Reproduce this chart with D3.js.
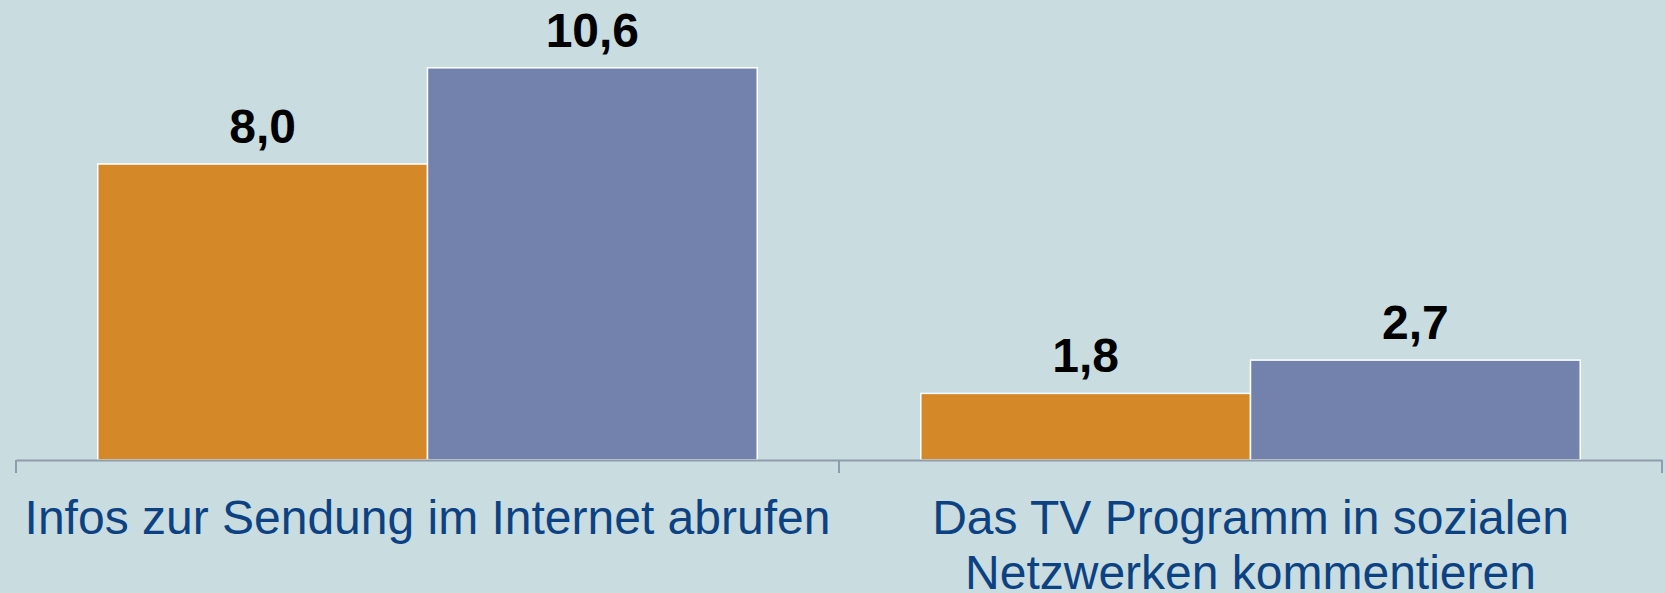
<!DOCTYPE html>
<html>
<head>
<meta charset="utf-8">
<script src="https://cdn.jsdelivr.net/npm/d3@7"></script>
<style>
  body { margin: 0; background: #c9dce0; }
  svg { display: block; font-family: "Liberation Sans", Arial, sans-serif; }
</style>
</head>
<body>
<div id="chart"></div>
<script>
var W = 1665;
var H = 593;

var categories = ['Infos zur Sendung im Internet abrufen', 'Das TV Programm in sozialen Netzwerken kommentieren'];
var series = ['a', 'b'];
var seriesA = [8.0, 1.8];
var seriesB = [10.6, 2.7];
var colors = ['#d48827', '#7282ad'];

var fmt = d3.formatLocale({ decimal: ',', thousands: '.', grouping: [3], currency: ['', ' €'] }).format('.1f');

var svg = d3.select('#chart').append('svg').attr('width', W).attr('height', H);

svg.append('rect').attr('width', W).attr('height', H).attr('fill', '#c9dce0');

var x0 = d3.scaleBand()
  .domain(categories)
  .range([16, 1662])
  .paddingInner(0)
  .paddingOuter(0);

var x1 = d3.scaleBand()
  .domain(series)
  .range([0, x0.bandwidth()])
  .paddingInner(0)
  .paddingOuter(0.248);

var y = d3.scaleLinear()
  .domain([0, 12])
  .range([460, 16]);

var rows = categories.map(function (c, i) {
  return { cat: c, values: [seriesA[i], seriesB[i]] };
});

var group = svg.selectAll('g.cat')
  .data(rows)
  .enter()
  .append('g')
  .attr('class', 'cat')
  .attr('transform', function (d) { return 'translate(' + x0(d.cat) + ',0)'; });

group.selectAll('rect')
  .data(function (d) { return d.values.map(function (v, i) { return { key: series[i], value: v }; }); })
  .enter()
  .append('rect')
  .attr('x', function (d) { return x1(d.key); })
  .attr('y', function (d) { return y(d.value); })
  .attr('width', x1.bandwidth())
  .attr('height', function (d) { return y(0) - y(d.value); })
  .attr('fill', function (d, i) { return colors[i]; })
  .attr('stroke', '#fff')
  .attr('stroke-width', 1.5);

group.selectAll('text.val')
  .data(function (d) { return d.values.map(function (v, i) { return { key: series[i], value: v }; }); })
  .enter()
  .append('text')
  .attr('class', 'val')
  .attr('x', function (d) { return x1(d.key) + x1.bandwidth() / 2; })
  .attr('y', function (d) { return y(d.value) - 21; })
  .attr('text-anchor', 'middle')
  .attr('font-size', 48)
  .attr('font-weight', 'bold')
  .attr('fill', '#000')
  .text(function (d) { return fmt(d.value); });

/* ===== AXIS ===== */
var xAxis = d3.axisBottom(x0).tickSize(0).tickFormat('');
var axisG = svg.append('g')
  .attr('transform', 'translate(0,' + y(0) + ')')
  .call(xAxis);
axisG.select('.domain').attr('stroke', '#8f9cab').attr('stroke-width', 2);

// boundary ticks between categories
var bounds = categories.map(function (c) { return x0(c); }).concat([x0.range()[1]]);
axisG.selectAll('line.bound')
  .data(bounds)
  .enter()
  .append('line')
  .attr('class', 'bound')
  .attr('x1', function (d) { return d; })
  .attr('x2', function (d) { return d; })
  .attr('y1', 0)
  .attr('y2', 13)
  .attr('stroke', '#8f9cab')
  .attr('stroke-width', 2);

/* ===== CATEGORY LABELS ===== */
var maxW = 810;
var labels = svg.selectAll('text.cat')
  .data(categories)
  .enter()
  .append('text')
  .attr('class', 'cat')
  .attr('text-anchor', 'middle')
  .attr('font-size', 48)
  .attr('fill', '#0d4282')
  .attr('x', function (d) { return x0(d) + x0.bandwidth() / 2; })
  .attr('y', 534);

labels.each(function (d) {
  var el = d3.select(this);
  var words = d.split(' ');
  var lines = [];
  var line = [];
  var probe = el.append('tspan');
  words.forEach(function (w) {
    line.push(w);
    probe.text(line.join(' '));
    if (probe.node().getComputedTextLength() > maxW && line.length > 1) {
      line.pop();
      lines.push(line.join(' '));
      line = [w];
    }
  });
  lines.push(line.join(' '));
  probe.remove();
  var cx = el.attr('x');
  lines.forEach(function (l, i) {
    el.append('tspan').attr('x', cx).attr('dy', i === 0 ? 0 : 55).text(l);
  });
});
</script>
</body>
</html>
